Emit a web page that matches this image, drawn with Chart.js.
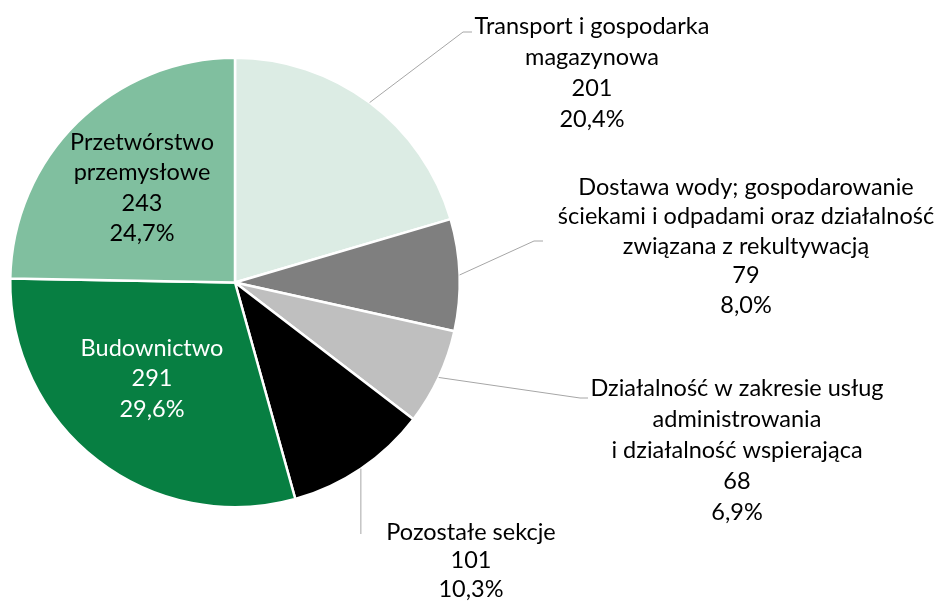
<!DOCTYPE html>
<html>
<head>
<meta charset="utf-8">
<script src="https://cdn.jsdelivr.net/npm/chart.js@4"></script>
<style>
html,body{margin:0;padding:0;background:#fff;}
#wrap{width:942px;height:603px;position:relative;}
</style>
</head>
<body>
<div id="wrap"><canvas id="c" width="942" height="603"></canvas></div>
<script>
// ---- data ----
const categories = [
  ["Transport i gospodarka", "magazynowa"],
  ["Dostawa wody; gospodarowanie", "ściekami i odpadami oraz działalność", "związana z rekultywacją"],
  ["Działalność w zakresie usług", "administrowania", "i działalność wspierająca"],
  ["Pozostałe sekcje"],
  ["Budownictwo"],
  ["Przetwórstwo", "przemysłowe"]
];
const values = [201, 79, 68, 101, 291, 243];
const percentLabels = ["20,4%", "8,0%", "6,9%", "10,3%", "29,6%", "24,7%"];
const colors = ["#dcece4", "#7f7f7f", "#bfbfbf", "#000000", "#077f42", "#80bf9f"];
const textColors = ["#000", "#000", "#000", "#000", "#fff", "#000"];

// ---- label layout (text block positions; leader lines start at slice edge) ----
const labelLayout = [
  {x: 592, y: 26, lh: 31, leader: {bend: [463, 32], end: [472, 32]}},
  {x: 746, y: 187, lh: 29.5, leader: {bend: [534, 241], end: [543, 241]}},
  {x: 737, y: 388, lh: 31, leader: {bend: [580, 398], end: [588, 398]}},
  {x: 471, y: 532, lh: 28.5, leader: {bend: null, endBelow: 534}},
  {x: 152, y: 348, lh: 30.5, inside: true},
  {x: 142, y: 142, lh: 30.5, inside: true}
];

const FONT = "Lato, 'Open Sans', sans-serif";
const FONT_SIZE = 23.5;

const labelPlugin = {
  id: 'customLabels',
  afterDatasetsDraw(chart) {
    const ctx = chart.ctx;
    const meta = chart.getDatasetMeta(0);
    ctx.save();
    meta.data.forEach((arc, i) => {
      const L = labelLayout[i];
      const {x: cx, y: cy, startAngle, endAngle, outerRadius} = arc.getProps(['x','y','startAngle','endAngle','outerRadius'], true);
      if (!L.inside) {
        const mid = (startAngle + endAngle) / 2;
        const sx = cx + Math.cos(mid) * outerRadius;
        const sy = cy + Math.sin(mid) * outerRadius;
        ctx.strokeStyle = '#a6a6a6';
        ctx.lineWidth = 1;
        ctx.beginPath();
        ctx.moveTo(sx, sy);
        if (L.leader.bend) {
          ctx.lineTo(L.leader.bend[0], L.leader.bend[1]);
          ctx.lineTo(L.leader.end[0], L.leader.end[1]);
        } else {
          ctx.lineTo(sx, L.leader.endBelow);
        }
        ctx.stroke();
      }
      const lines = categories[i].concat([String(values[i]), percentLabels[i]]);
      ctx.font = FONT_SIZE + "px " + FONT;
      ctx.fillStyle = textColors[i];
      ctx.textAlign = 'center';
      ctx.textBaseline = 'middle';
      lines.forEach((t, k) => {
        ctx.fillText(t, L.x, L.y + k * L.lh);
      });
    });
    ctx.restore();
  }
};

new Chart(document.getElementById('c'), {
  type: 'pie',
  data: {
    labels: categories.map(c => c.join(' ')),
    datasets: [{
      data: values,
      backgroundColor: colors,
      borderColor: '#ffffff',
      borderWidth: 2.5
    }]
  },
  options: {
    responsive: false,
    animation: false,
    layout: {padding: {left: 9, right: 481, top: 56, bottom: 94}},
    plugins: {legend: {display: false}, tooltip: {enabled: false}, title: {display: false}}
  },
  plugins: [labelPlugin]
});
</script>
</body>
</html>
